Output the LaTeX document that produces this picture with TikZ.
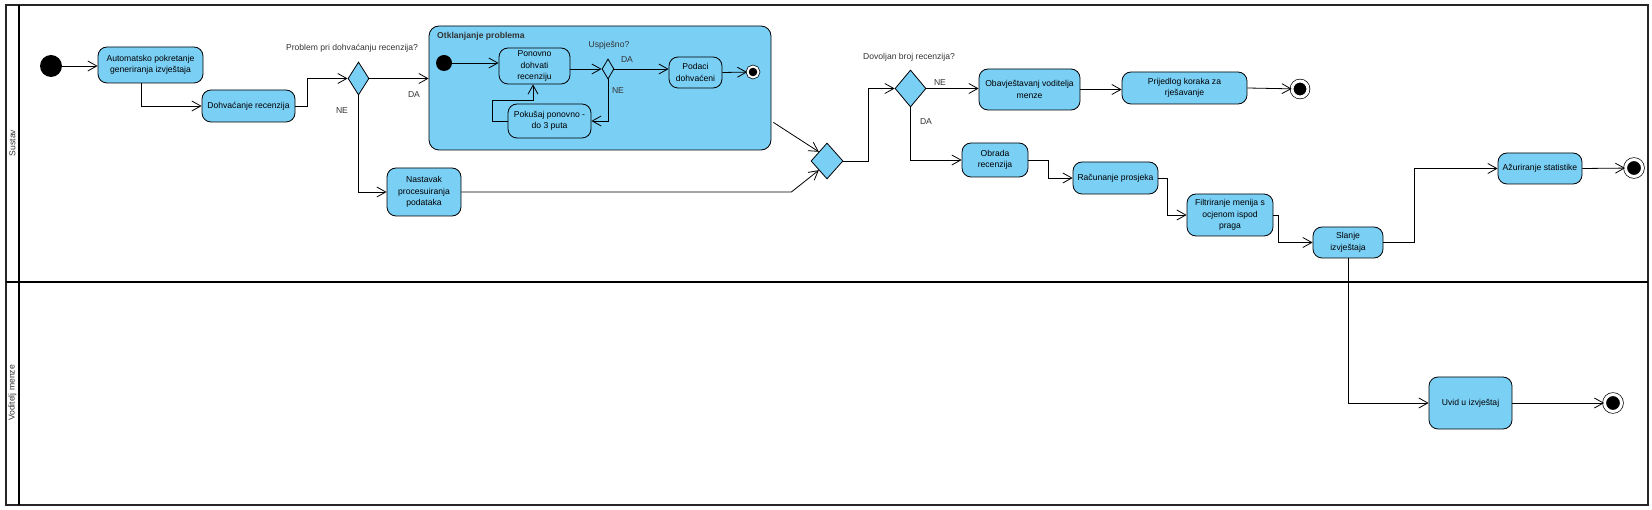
\documentclass[tikz,border=0pt]{standalone}
\usepackage{fontspec}
\setmainfont{Liberation Sans}
\usetikzlibrary{arrows.meta,shapes.geometric}
\definecolor{actblue}{RGB}{122,207,245}

\begin{document}
\begin{tikzpicture}[x=1pt,y=-1pt,
  font=\fontsize{8.6}{11.5}\selectfont,
  act/.style={draw,rounded corners=9pt,fill=actblue,align=center,inner sep=1pt,line width=0.8pt},
  dec/.style={draw,diamond,fill=actblue,inner sep=0pt,line width=0.8pt},
  initial/.style={circle,fill=black,inner sep=0pt},
  final/.style={circle,fill=black,draw,double=white,double distance=3pt,line width=0.7pt,minimum size=16pt,inner sep=0pt},
  flow/.style={-{Straight Barb[length=9pt,width=10pt]},line width=0.8pt},
  lbl/.style={text=black!80,inner sep=0pt}]
  \useasboundingbox (0,0) rectangle (1652,510);

  % swimlanes
  \draw[line width=1.2pt,black!85] (6,5) rectangle (1648,505);
  \draw[line width=1.8pt] (19,5) -- (19,505);
  \draw[line width=1.8pt] (6,282) -- (1648,282);
  \node[lbl,rotate=90] (lane1) at (12.5,143) {Sustav};
  \node[lbl,rotate=90] (lane2) at (12.5,393) {Voditelj menze};

  % first part of the flow
  \node[initial,minimum size=22pt] (start0) at (51,66) {};
  \node[act,minimum width=105pt,minimum height=36pt] (auto) at (150.5,65) {Automatsko pokretanje\\generiranja izvještaja};
  \node[act,minimum width=93pt,minimum height=32pt] (dohv) at (248.5,106) {Dohvaćanje recenzija};
  \node[dec,minimum width=21pt,minimum height=33pt] (dec1) at (358.5,78.5) {};
  \node[lbl] (q1) at (352,48) {Problem pri dohvaćanju recenzija?};
  \node[lbl] (da1) at (414,95) {DA};
  \node[lbl] (ne1) at (342,111) {NE};
  \node[act,minimum width=74pt,minimum height=48pt] (nast) at (424,192) {Nastavak\\procesuiranja\\podataka};

  % the problem-handling region
  \node[act,rounded corners=10pt,minimum width=342pt,minimum height=124pt] (otk) at (600,88) {};
  \node[lbl,anchor=west,font=\fontsize{8.6}{11.5}\selectfont\bfseries] (otktitle) at (437,36) {Otklanjanje problema};
  \node[initial,minimum size=16pt] (start1) at (444,63) {};
  \node[act,minimum width=71pt,minimum height=36pt] (ponovno) at (534.5,66) {Ponovno\\dohvati\\recenziju};
  \node[dec,minimum width=12pt,minimum height=20pt] (dec2) at (608,69) {};
  \node[lbl] (q2) at (609,45) {Uspješno?};
  \node[lbl] (da2) at (627,60) {DA};
  \node[lbl] (ne2) at (618,91) {NE};
  \node[act,minimum width=53pt,minimum height=31pt] (podaci) at (695.5,72.5) {Podaci\\dohvaćeni};
  \node[final,minimum size=11pt,double distance=2pt] (fin1) at (753,72) {};
  \node[act,minimum width=83pt,minimum height=34pt] (pokusaj) at (549.5,121) {Pokušaj ponovno -\\do 3 puta};

  % merge and second decision
  \node[dec,minimum width=32pt,minimum height=36pt] (merge) at (827,161) {};
  \node[dec,minimum width=31pt,minimum height=37pt] (dec3) at (910.5,88.5) {};
  \node[lbl] (q3) at (909,57) {Dovoljan broj recenzija?};
  \node[lbl] (ne3) at (940,83) {NE};
  \node[lbl] (da3) at (926,122) {DA};
  \node[act,minimum width=101pt,minimum height=41pt] (obav) at (1029.5,89.5) {Obavještavanj voditelja\\menze};
  \node[act,minimum width=125pt,minimum height=32pt] (prij) at (1184.5,88) {Prijedlog koraka za\\rješavanje};
  \node[final] (fin2) at (1300,89) {};
  \node[act,minimum width=66pt,minimum height=34pt] (obrada) at (995,160) {Obrada\\recenzija};
  \node[act,minimum width=85pt,minimum height=32pt] (racun) at (1115.5,178) {Računanje prosjeka};
  \node[act,minimum width=86pt,minimum height=42pt] (filt) at (1230,215) {Filtriranje menija s\\ocjenom ispod\\praga};
  \node[act,minimum width=70pt,minimum height=31pt] (slanje) at (1348,242.5) {Slanje\\izvještaja};
  \node[act,minimum width=84pt,minimum height=31pt] (azur) at (1540,168.5) {Ažuriranje statistike};
  \node[final,minimum size=17pt] (fin3) at (1634,168) {};

  % second lane
  \node[act,minimum width=83pt,minimum height=52pt] (uvid) at (1470.5,403) {Uvid u izvještaj};
  \node[final,minimum size=17pt] (fin4) at (1613,403) {};

  % connectors
  \draw[flow] (start0) -- (start0 -| auto.west);
  \draw[flow] ([xshift=-9.5pt]auto.south) |- (dohv.west);
  \draw[flow] (dohv.east) -- ++(12,0) |- (dec1.west);
  \draw[flow] (dec1.east) -- (dec1.east -| otk.west);
  \draw[flow] (dec1.south) |- (nast.west);
  \draw[flow] (start1) -- (start1 -| ponovno.west);
  \draw[flow] (ponovno.east |- dec2.west) -- (dec2.west);
  \draw[flow] (dec2.east) -- (dec2.east -| podaci.west);
  \draw[flow] (podaci.east) -- (fin1);
  \draw[flow] (dec2.south) |- (pokusaj.east);
  \draw[flow] (pokusaj.west) -- ++(-15,0) -- ++(0,-21) -| ([xshift=-1.5pt]ponovno.south);
  \draw[flow] ([shift={(2pt,28pt)}]otk.south east) -- (merge.north west);
  \draw[flow] (nast.east) -- ++(330,0) -- (merge.south west);
  \draw[flow] (merge.east) -- ++(25,0) |- (dec3.west);
  \draw[flow] (dec3.east) -- (dec3.east -| obav.west);
  \draw[flow] (obav.east) -- (obav.east -| prij.west);
  \draw[flow] (prij.east) -- (fin2);
  \draw[flow] (dec3.south) |- (obrada.west);
  \draw[flow] (obrada.east) -- ++(20,0) |- (racun.west);
  \draw[flow] (racun.east) -- ++(9,0) |- (filt.west);
  \draw[flow] (filt.east) -- ++(5,0) |- (slanje.west);
  \draw[flow] (slanje.east) -- ++(31,0) |- (azur.west);
  \draw[flow] (azur.east) -- (fin3);
  \draw[flow] (slanje.south) |- (uvid.west);
  \draw[flow] (uvid.east) -- (fin4);
\end{tikzpicture}
\end{document}
